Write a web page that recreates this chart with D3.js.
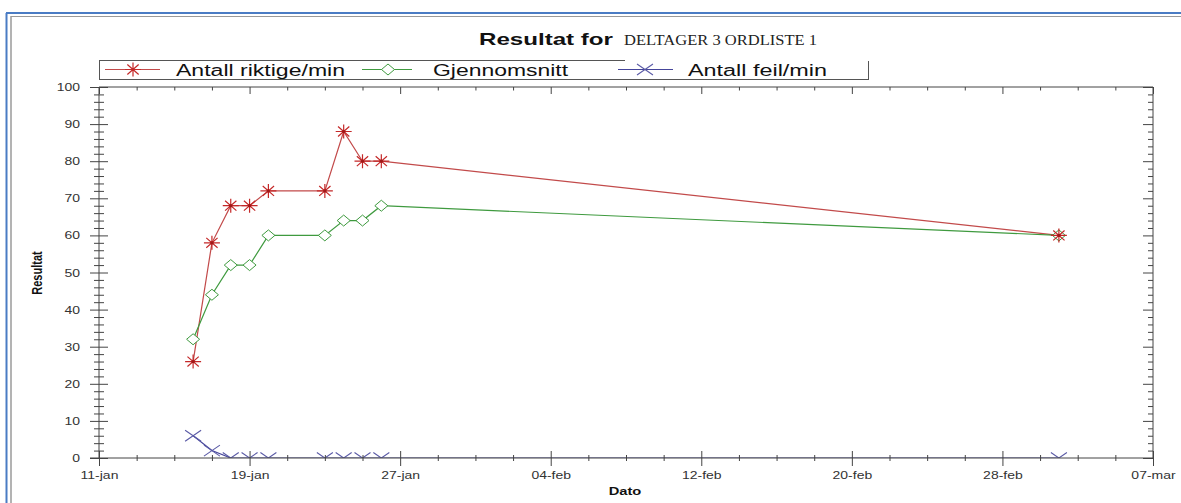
<!DOCTYPE html>
<html>
<head>
<meta charset="utf-8">
<script src="https://cdn.jsdelivr.net/npm/d3@7"></script>
<style>
  html, body { margin: 0; padding: 0; background: #fff; }
  svg { display: block; }
</style>
</head>
<body>
<svg id="chart" width="1181" height="503"></svg>
<script>
// ---- data ----
const dates = ["2012-01-16","2012-01-17","2012-01-18","2012-01-19","2012-01-20","2012-01-23","2012-01-24","2012-01-25","2012-01-26","2012-03-02"];
const riktige = [26, 58, 68, 68, 72, 72, 88, 80, 80, 60];
const snitt = [32, 44, 52, 52, 60, 60, 64, 64, 68, 60];
const feil = [6, 2, 0, 0, 0, 0, 0, 0, 0, 0];
const seriesNames = ["Antall riktige/min", "Gjennomsnitt", "Antall feil/min"];
const xTickLabels = ["11-jan","19-jan","27-jan","04-feb","12-feb","20-feb","28-feb","07-mar"];
const yTickLabels = ["0","10","20","30","40","50","60","70","80","90","100"];
const titleMain = "Resultat for";
const titleSub = "DELTAGER 3 ORDLISTE 1";
const xTitle = "Dato";
const yTitle = "Resultat";

// ---- layout ----
const W = 1181, H = 503;
const L = 99, R = 1153, T = 87, B = 458;
const SX = 1.4; // horizontal stretch of the reference
const sans = "'Liberation Sans', Arial, sans-serif";
const serif = "'Liberation Serif', 'Times New Roman', serif";

const svg = d3.select("#chart");
const parse = d3.utcParse("%Y-%m-%d");
const start = parse("2012-01-11");
const majorDates = xTickLabels.map((d, i) => d3.utcDay.offset(start, 8 * i));
const minorDates = d3.range(0, 57, 2).map(i => d3.utcDay.offset(start, i));

const x = d3.scaleUtc().domain([majorDates[0], majorDates[majorDates.length - 1]]).range([L, R]);
const y = d3.scaleLinear().domain([0, 100]).range([B, T]);

// frame
svg.append("line").attr("x1", 6.5).attr("x2", 6.5).attr("y1", 13).attr("y2", H + 5)
  .attr("stroke", "#4a7cc4").attr("stroke-width", 2);
svg.append("line").attr("x1", 6).attr("x2", W + 5).attr("y1", 13).attr("y2", 13)
  .attr("stroke", "#4a7cc4").attr("stroke-width", 2);
svg.append("line").attr("x1", 11).attr("x2", 11).attr("y1", 16).attr("y2", H + 5)
  .attr("stroke", "#9a9a9a").attr("stroke-width", 1.5);
svg.append("line").attr("x1", 11).attr("x2", W + 5).attr("y1", 16.5).attr("y2", 16.5)
  .attr("stroke", "#9a9a9a").attr("stroke-width", 1.2);

// title
svg.append("text").attr("x", 479).attr("y", 45).text(titleMain)
  .attr("font-family", sans).attr("font-weight", "bold").attr("font-size", 17)
  .attr("textLength", 134).attr("lengthAdjust", "spacingAndGlyphs").attr("fill", "#111");
svg.append("text").attr("x", 624).attr("y", 44.5).text(titleSub)
  .attr("font-family", serif).attr("font-size", 14)
  .attr("textLength", 193).attr("lengthAdjust", "spacingAndGlyphs").attr("fill", "#222");

// ---- marker paths ----
function starPath(rx, ry) {
  let p = "";
  for (let k = 0; k < 4; k++) {
    const a = k * Math.PI / 4;
    const dx = Math.cos(a) * rx, dy = Math.sin(a) * ry;
    p += `M${-dx},${-dy}L${dx},${dy}`;
  }
  return p;
}
function diamondPath(rx, ry) { return `M${-rx},0L0,${-ry}L${rx},0L0,${ry}Z`; }
function crossPath(rx, ry) { return `M${-rx},${-ry}L${rx},${ry}M${-rx},${ry}L${rx},${-ry}`; }

const series = [
  { name: seriesNames[0], values: riktige, line: "#c24a4a", mk: "#c42828", path: starPath(8, 7), fill: "none", mw: 1.2 },
  { name: seriesNames[1], values: snitt, line: "#3f9a3f", mk: "#3f9a3f", path: diamondPath(6.5, 5.5), fill: "#fff", mw: 1 },
  { name: seriesNames[2], values: feil, line: "#45459a", mk: "#5a5aa6", path: crossPath(8, 5.5), fill: "none", mw: 1.1 }
];

// legend
const lg = svg.append("g");
const legStroke = "#555";
lg.append("line").attr("x1", L).attr("x2", 625).attr("y1", 60.5).attr("y2", 60.5).attr("stroke", legStroke);
lg.append("line").attr("x1", L).attr("x2", 868).attr("y1", 79.5).attr("y2", 79.5).attr("stroke", legStroke);
lg.append("line").attr("x1", L + 0.5).attr("x2", L + 0.5).attr("y1", 60).attr("y2", 80).attr("stroke", legStroke);
lg.append("line").attr("x1", 868.5).attr("x2", 868.5).attr("y1", 61).attr("y2", 80).attr("stroke", legStroke);
const legItems = [
  { x1: 105, x2: 160, mx: 133, tx: 176, tl: 169 },
  { x1: 362, x2: 412, mx: 388, tx: 433, tl: 135 },
  { x1: 618, x2: 673, mx: 645, tx: 688, tl: 139 }
];
series.forEach((s, i) => {
  const it = legItems[i];
  lg.append("line").attr("x1", it.x1).attr("x2", it.x2).attr("y1", 69.5).attr("y2", 69.5)
    .attr("stroke", s.line).attr("stroke-width", 1.1);
  lg.append("path").attr("d", s.path).attr("transform", `translate(${it.mx},69.5)`)
    .attr("stroke", s.mk).attr("fill", s.fill).attr("stroke-width", s.mw);
  lg.append("text").attr("x", it.tx).attr("y", 75.5).text(s.name)
    .attr("font-family", sans).attr("font-size", 16).attr("fill", "#111")
    .attr("textLength", it.tl).attr("lengthAdjust", "spacingAndGlyphs");
});

// ---- plot ----
svg.append("clipPath").attr("id", "clip").append("rect")
  .attr("x", L).attr("y", T).attr("width", R - L).attr("height", B - T);
const plot = svg.append("g").attr("clip-path", "url(#clip)");
const pts = vals => vals.map((v, i) => ({ d: parse(dates[i]), v }));
const lineGen = d3.line().x(p => x(p.d)).y(p => y(p.v));

series.forEach(s => {
  const p = pts(s.values);
  plot.append("path").datum(p).attr("d", lineGen).attr("fill", "none")
    .attr("stroke", s.line).attr("stroke-width", 1.2);
});
series.slice().reverse().forEach(s => {
  const p = pts(s.values);
  plot.selectAll(null).data(p).enter().append("path")
    .attr("d", s.path)
    .attr("transform", q => `translate(${x(q.d)},${y(q.v)})`)
    .attr("stroke", s.mk).attr("fill", s.fill).attr("stroke-width", s.mw);
  if (s.values === riktige) {
    plot.selectAll(null).data(p).enter().append("circle")
      .attr("cx", q => x(q.d)).attr("cy", q => y(q.v)).attr("r", 1.6).attr("fill", "#a01818");
  }
});

// ---- axes ----
const axCol = "#444";
const isMajorDate = d => majorDates.some(m => +m === +d);
const yMinor = d3.range(0, 101, 2);

// bottom axis
const gx = svg.append("g").attr("transform", `translate(0,${B})`)
  .call(d3.axisBottom(x).tickValues(minorDates).tickSize(0).tickFormat(""));
gx.select(".domain").attr("stroke", axCol).attr("d", `M${L - 9},0H${R}`);
gx.selectAll(".tick line").attr("stroke", axCol)
  .attr("y1", d => isMajorDate(d) ? -7 : -3).attr("y2", d => isMajorDate(d) ? 8 : 3);
const gxl = svg.append("g").attr("transform", `translate(0,${B})`)
  .call(d3.axisBottom(x).tickValues(majorDates).tickSize(0).tickFormat((d, i) => xTickLabels[i]));
gxl.select(".domain").remove();
gxl.selectAll(".tick text").attr("y", 0).attr("dy", 0)
  .attr("transform", `translate(0,21) scale(${SX},1)`)
  .attr("font-family", sans).attr("font-size", 10).attr("fill", "#333");

// top axis (ticks only)
const gt = svg.append("g").attr("transform", `translate(0,${T})`)
  .call(d3.axisTop(x).tickValues(minorDates).tickSize(0).tickFormat(""));
gt.select(".domain").attr("stroke", axCol).attr("d", `M${L},0H${R}`);
gt.selectAll(".tick line").attr("stroke", axCol).attr("y1", 0).attr("y2", d => isMajorDate(d) ? 7 : 3.5);

// left axis
const gy = svg.append("g").attr("transform", `translate(${L},0)`)
  .call(d3.axisLeft(y).tickValues(yMinor).tickSize(0).tickFormat(""));
gy.select(".domain").attr("stroke", axCol).attr("d", `M0,${T}V${B}`);
gy.selectAll(".tick line").attr("stroke", axCol)
  .attr("x1", d => d % 10 === 0 ? -9 : -5).attr("x2", d => d % 10 === 0 ? 9 : 5);
const gyl = svg.append("g").attr("transform", `translate(${L},0)`)
  .call(d3.axisLeft(y).tickValues(d3.range(0, 101, 10)).tickSize(0).tickFormat((d, i) => yTickLabels[i]));
gyl.select(".domain").remove();
gyl.selectAll(".tick text").attr("x", 0).attr("dy", "0.35em")
  .attr("transform", `translate(-19,0) scale(${SX},1)`)
  .attr("text-anchor", "end")
  .attr("font-family", sans).attr("font-size", 10).attr("fill", "#333");

// right axis
const gr = svg.append("g").attr("transform", `translate(${R},0)`)
  .call(d3.axisRight(y).tickValues(yMinor).tickSize(0).tickFormat(""));
gr.select(".domain").attr("stroke", axCol).attr("d", `M0,${T}V${B}`);
gr.selectAll(".tick line").attr("stroke", axCol).attr("x1", 0).attr("x2", d => d % 10 === 0 ? -10 : -5);

// axis titles
svg.append("text").text(xTitle)
  .attr("transform", `translate(625,495) scale(${SX},1)`)
  .attr("text-anchor", "middle").attr("font-family", sans).attr("font-weight", "bold")
  .attr("font-size", 10.5).attr("fill", "#111");
svg.append("text").text(yTitle)
  .attr("transform", `translate(42,273) scale(${SX},1) rotate(-90)`)
  .attr("text-anchor", "middle").attr("font-family", sans).attr("font-weight", "bold")
  .attr("font-size", 11).attr("fill", "#111");
</script>
</body>
</html>
